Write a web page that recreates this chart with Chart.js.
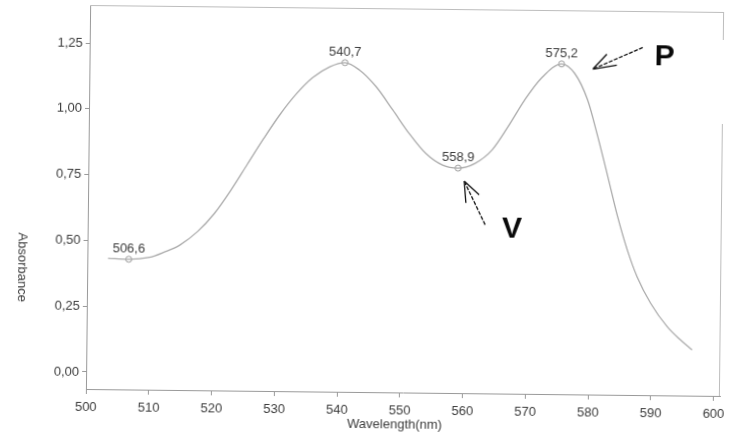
<!DOCTYPE html>
<html><head><meta charset="utf-8">
<script src="https://cdn.jsdelivr.net/npm/chart.js@4.4.1/dist/chart.umd.min.js"></script>
<style>
html,body{margin:0;padding:0;background:#fff;overflow:hidden;}
#wrap{width:735px;height:441px;transform:rotate(0.63deg);transform-origin:88px 200px;}
canvas{display:block;}
</style></head><body>
<div id="wrap"><canvas id="c" width="735" height="441"></canvas></div>
<script>
// Spectrum (wavelength in nm, absorbance)
const wavelength = [503.3, 506.6, 509.9, 512.2, 514.7, 517.5, 520.1, 522.7, 525.3, 527.9, 530.4, 533.0, 535.6, 538.3, 540.7, 543.0, 545.7, 548.4, 551.0, 553.7, 556.4, 558.9, 561.6, 564.3, 566.8, 569.4, 572.0, 575.2, 577.3, 579.4, 581.1, 582.7, 584.4, 586.0, 587.6, 589.8, 592.5, 594.6, 596.5];
const absorbance = [0.433, 0.430, 0.438, 0.458, 0.486, 0.538, 0.606, 0.695, 0.795, 0.895, 0.985, 1.065, 1.128, 1.170, 1.186, 1.159, 1.096, 1.008, 0.921, 0.845, 0.801, 0.790, 0.809, 0.861, 0.950, 1.052, 1.135, 1.190, 1.155, 1.055, 0.915, 0.770, 0.612, 0.486, 0.385, 0.285, 0.196, 0.147, 0.109];

// Marked extrema
const peakWavelength = [506.6, 540.7, 558.9, 575.2];
const peakAbsorbance = [0.430, 1.186, 0.790, 1.190];
const peakLabels = ['506,6', '540,7', '558,9', '575,2'];

// Axis ticks and titles
const xTicks = [500, 510, 520, 530, 540, 550, 560, 570, 580, 590, 600];
const yTicks = [0, 0.25, 0.5, 0.75, 1.0, 1.25];
const xTitle = 'Wavelength(nm)';
const yTitle = 'Absorbance';

// Hand-drawn annotations (data coordinates)
const annotations = [
  { letter: 'P', letterAt: [591.6, 1.222], tip: [580.2, 1.172], tail: [588.1, 1.256], heads: [[582.4, 1.229], [584.0, 1.188]] },
  { letter: 'V', letterAt: [567.6, 0.560], tip: [559.9, 0.741], tail: [563.3, 0.576], heads: [[562.3, 0.690], [560.2, 0.658]] }
];

const FONT = "'Liberation Sans', Arial, sans-serif";
const TXT = '#3c3c3c';

const overlay = {
  id: 'overlay',
  afterDatasetsDraw(chart) {
    const ctx = chart.ctx, a = chart.chartArea;
    const xs = chart.scales.x, ys = chart.scales.y;
    ctx.save();
    // frame top & right
    ctx.strokeStyle = '#bdbdbd';
    ctx.lineWidth = 1;
    ctx.beginPath();
    ctx.moveTo(a.left, a.top + 0.5); ctx.lineTo(a.right, a.top + 0.5);
    ctx.moveTo(a.right - 0.5, a.top); ctx.lineTo(a.right - 0.5, a.top + 28);
    ctx.moveTo(a.right - 0.5, a.top + 112); ctx.lineTo(a.right - 0.5, a.bottom);
    ctx.stroke();
    // axis titles
    ctx.fillStyle = TXT;
    ctx.font = '13px ' + FONT;
    ctx.textAlign = 'center';
    ctx.textBaseline = 'middle';
    ctx.fillText(xTitle, 397, 421);
    ctx.save();
    ctx.translate(23, 268);
    ctx.rotate(Math.PI / 2);
    ctx.fillText(yTitle, 0, 0);
    ctx.restore();
    // peak labels
    const meta = chart.getDatasetMeta(1);
    ctx.textBaseline = 'alphabetic';
    meta.data.forEach((pt, i) => {
      ctx.fillText(peakLabels[i], pt.x, pt.y - 7);
    });
    // annotations
    const px = p => [xs.getPixelForValue(p[0]), ys.getPixelForValue(p[1])];
    annotations.forEach(an => {
      const tip = px(an.tip), tail = px(an.tail);
      ctx.strokeStyle = '#111';
      ctx.lineWidth = 1.3;
      ctx.setLineDash([4, 1.5]);
      ctx.beginPath();
      ctx.moveTo(tail[0], tail[1]); ctx.lineTo(tip[0], tip[1]);
      ctx.stroke();
      ctx.setLineDash([]);
      ctx.beginPath();
      an.heads.forEach(h => { const hp = px(h); ctx.moveTo(tip[0], tip[1]); ctx.lineTo(hp[0], hp[1]); });
      ctx.stroke();
      const lp = px(an.letterAt);
      ctx.fillStyle = '#0a0a0a';
      ctx.font = 'bold 30px ' + FONT;
      ctx.textAlign = 'center';
      ctx.textBaseline = 'middle';
      ctx.fillText(an.letter, lp[0], lp[1]);
    });
    ctx.restore();
  }
};

new Chart(document.getElementById('c'), {
  type: 'scatter',
  data: {
    datasets: [
      {
        data: wavelength.map((w, i) => ({ x: w, y: absorbance[i] })),
        showLine: true,
        borderColor: '#ababab',
        borderWidth: 1.3,
        pointRadius: 0,
        cubicInterpolationMode: 'monotone',
        fill: false
      },
      {
        data: peakWavelength.map((w, i) => ({ x: w, y: peakAbsorbance[i] })),
        showLine: false,
        pointRadius: 3,
        pointBorderWidth: 1,
        pointBorderColor: '#9a9a9a',
        pointBackgroundColor: '#ffffff'
      }
    ]
  },
  options: {
    responsive: false,
    animation: false,
    layout: { padding: { left: 0, top: 5, right: 13, bottom: 0 } },
    plugins: { legend: { display: false }, tooltip: { enabled: false } },
    scales: {
      x: {
        type: 'linear', min: 500, max: 601,
        afterBuildTicks: s => { s.ticks = xTicks.map(v => ({ value: v })); },
        afterFit: s => { s.height = 52; s.paddingLeft = 0; s.paddingRight = 0; },
        ticks: { autoSkip: false, maxRotation: 0, padding: 6, color: TXT, font: { family: FONT, size: 13 },
                 callback: v => String(v) },
        grid: { drawOnChartArea: false, drawTicks: true, tickLength: 5, color: '#9a9a9a' },
        border: { display: true, color: '#9a9a9a', width: 1 },
        title: { display: false }
      },
      y: {
        type: 'linear', min: -0.0646, max: 1.3944,
        afterBuildTicks: s => { s.ticks = yTicks.map(v => ({ value: v })); },
        afterFit: s => { s.width = 88; s.paddingTop = 0; s.paddingBottom = 0; },
        ticks: { autoSkip: false, padding: 3, color: TXT, font: { family: FONT, size: 13 },
                 callback: v => v.toFixed(2).replace('.', ',') },
        grid: { drawOnChartArea: false, drawTicks: true, tickLength: 4, color: '#9a9a9a' },
        border: { display: true, color: '#9a9a9a', width: 1 },
        title: { display: false }
      }
    }
  },
  plugins: [overlay]
});
</script>
</body></html>
